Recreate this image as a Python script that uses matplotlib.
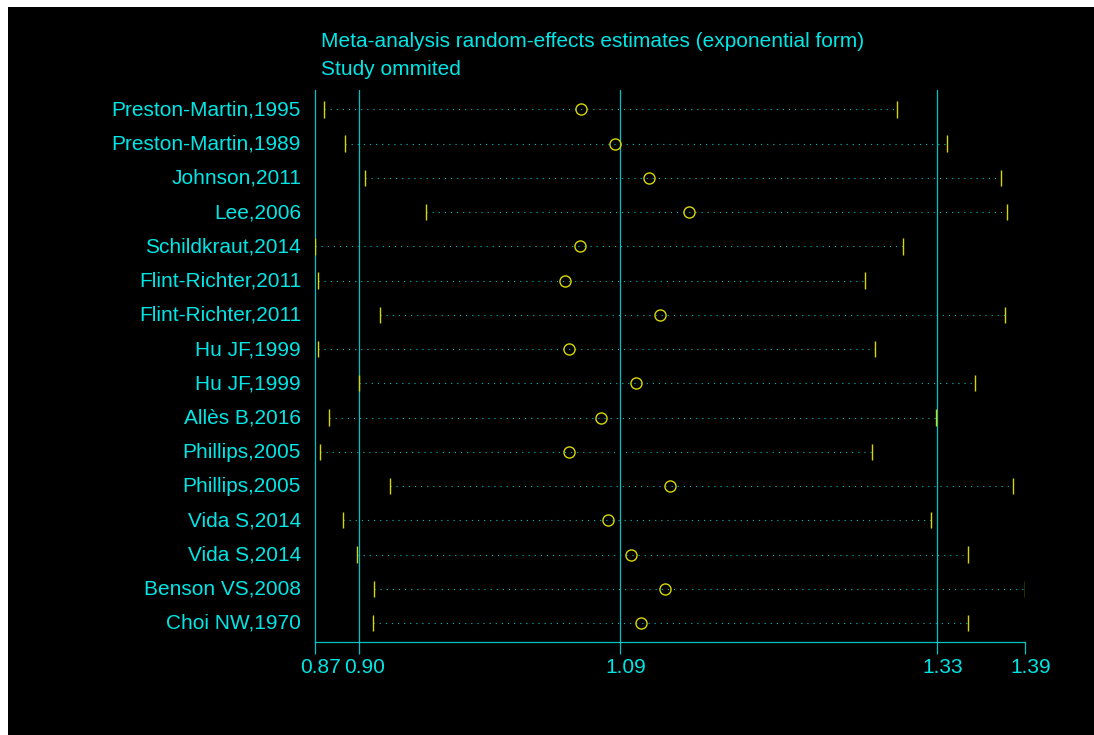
import numpy as np
import matplotlib
matplotlib.use('Agg')
import matplotlib.pyplot as plt
from matplotlib.patches import Rectangle
from matplotlib.transforms import ScaledTranslation

plt.rcParams['font.family'] = ['Liberation Sans', 'DejaVu Sans']

# omitted study per row (top to bottom)
studies = ['Preston-Martin,1995', 'Preston-Martin,1989', 'Johnson,2011', 'Lee,2006',
           'Schildkraut,2014', 'Flint-Richter,2011', 'Flint-Richter,2011', 'Hu JF,1999',
           'Hu JF,1999', 'Allès B,2016', 'Phillips,2005', 'Phillips,2005',
           'Vida S,2014', 'Vida S,2014', 'Benson VS,2008', 'Choi NW,1970']
lower = [0.8764, 0.8920, 0.9068, 0.9513, 0.8700, 0.8720, 0.9174, 0.8720,
         0.9025, 0.8800, 0.8737, 0.9252, 0.8905, 0.9005, 0.9132, 0.9123]
estimate = [1.0651, 1.0900, 1.1147, 1.1438, 1.0639, 1.0532, 1.1227, 1.0561,
            1.1049, 1.0793, 1.0561, 1.1303, 1.0844, 1.1013, 1.1262, 1.1090]
upper = [1.2966, 1.3328, 1.3726, 1.3767, 1.3008, 1.2731, 1.3753, 1.2803,
         1.3533, 1.3249, 1.2781, 1.3816, 1.3213, 1.3482, 1.3899, 1.3482]

# pooled estimate and CI, axis ends
pooled_low, pooled_est, pooled_high = 0.9022, 1.0934, 1.3257
axis_min, axis_max = 0.8700, 1.3901

cyan_txt = '#00e6e6'
cyan_ln = '#00c4c4'
dots = '#00c0c0'
yel = '#d8d800'

fig = plt.figure(figsize=(10.94, 7.35), dpi=100, facecolor='white')
fig.patches.append(Rectangle((8 / 1094, 0), 1, 1 - 7 / 735, transform=fig.transFigure,
                             facecolor='black', edgecolor='none', zorder=-10))
ax = fig.add_axes([315 / 1094, 93 / 735, 710 / 1094, 552 / 735])
ax.set_facecolor('none')

rows = np.arange(1, len(studies) + 1)

for v in [pooled_low, pooled_est, pooled_high]:
    ax.axvline(v, color=cyan_ln, lw=0.9, zorder=1)

for i in range(len(studies)):
    ax.plot([lower[i], upper[i]], [rows[i], rows[i]], color=dots, lw=0.8,
            linestyle=(0, (1, 4.5)), zorder=2)
ax.vlines(lower, rows - 0.24, rows + 0.24, color=yel, lw=1.0, zorder=3)
ax.vlines(upper, rows - 0.24, rows + 0.24, color=yel, lw=1.0, zorder=3)
ax.plot(estimate, rows, 'o', mfc='none', mec=yel, ms=8, mew=1, zorder=4)

ax.set_xlim(axis_min, axis_max)
ax.set_ylim(16.555, 0.436)

ax.set_yticks(rows, studies)
ax.tick_params(axis='y', length=0, pad=10, labelcolor=cyan_txt, labelsize=15)
up = ScaledTranslation(0, 1.5 / 100, fig.dpi_scale_trans)
for lab in ax.get_yticklabels():
    lab.set_transform(lab.get_transform() + up)

xt = [axis_min, pooled_low, pooled_est, pooled_high, axis_max]
ax.set_xticks(xt, [f'{v:.2f}' for v in xt])
ax.tick_params(axis='x', length=8.6, width=0.9, color=cyan_ln, pad=3,
               labelcolor=cyan_txt, labelsize=15)
shift = ScaledTranslation(6 / 100, 0, fig.dpi_scale_trans)
for lab in ax.get_xticklabels():
    lab.set_transform(lab.get_transform() + shift)

for s in ['top', 'right']:
    ax.spines[s].set_visible(False)
for s in ['left', 'bottom']:
    ax.spines[s].set_color(cyan_ln)
    ax.spines[s].set_linewidth(0.9)

fig.text(321 / 1094, 1 - 46.7 / 735,
         'Meta-analysis random-effects estimates (exponential form)',
         color=cyan_txt, fontsize=15, va='baseline')
fig.text(321 / 1094, 1 - 75 / 735, 'Study ommited',
         color=cyan_txt, fontsize=15, va='baseline')

fig.savefig('out.png', dpi=100, facecolor='white')
